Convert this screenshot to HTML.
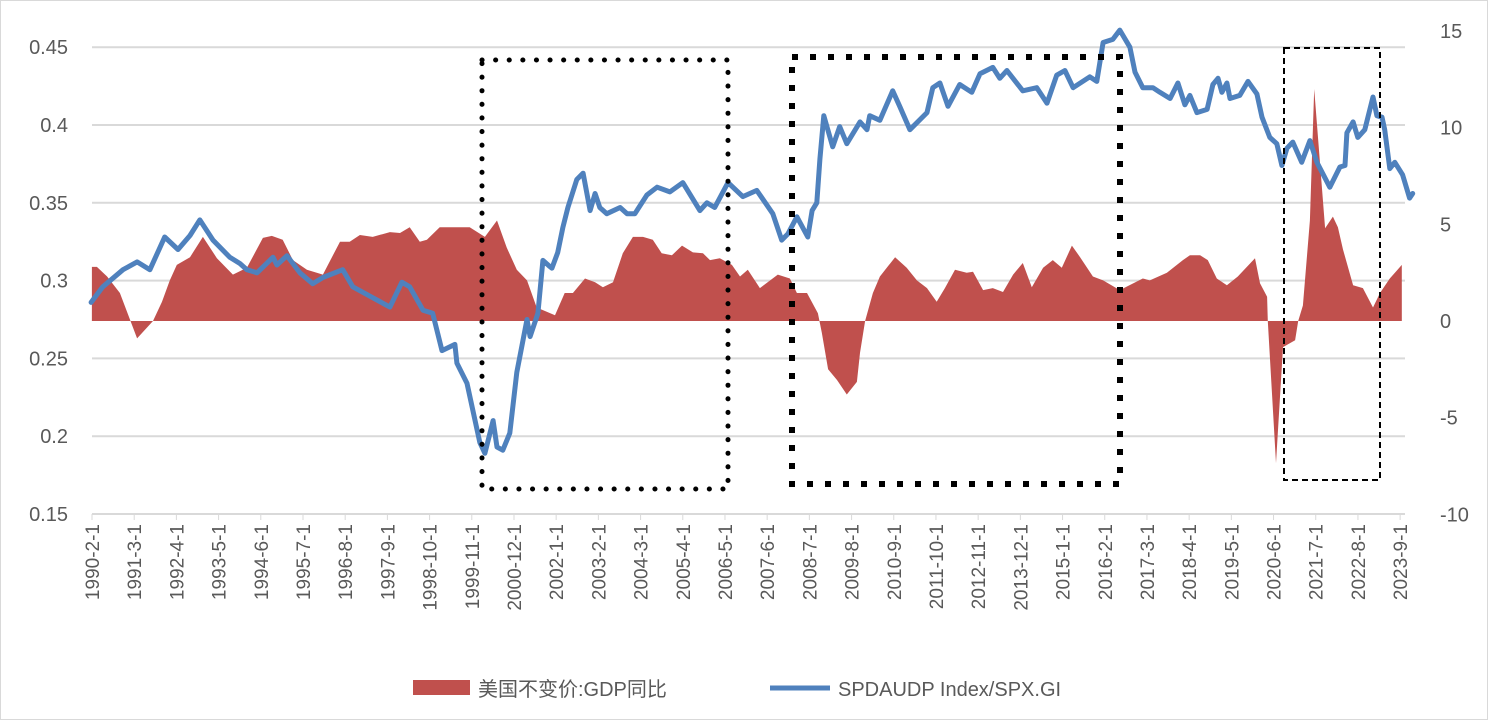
<!DOCTYPE html>
<html><head><meta charset="utf-8"><style>
body{margin:0;background:#fff;}
svg{display:block;font-family:"Liberation Sans","Noto Sans CJK SC",sans-serif;}
</style></head><body>
<svg id="c" width="1488" height="720">
<rect x="0.5" y="0.5" width="1487" height="719" fill="#fff" stroke="#d9d9d9"/>
<g id="grid"></g>
<g id="gdp"></g>
<g id="spx"></g>
<g id="boxes">
<rect x="482" y="60" width="246" height="429" fill="none" stroke="#000" stroke-width="5" stroke-dasharray="0.1 13.5" stroke-linecap="round"/>
<rect x="792" y="57" width="328" height="427" fill="none" stroke="#000" stroke-width="6" stroke-dasharray="6 12"/>
<rect x="1284" y="48" width="96" height="432" fill="none" stroke="#000" stroke-width="2" stroke-dasharray="6 4"/>
</g>
<g id="axes"></g>
<g>
<rect x="413" y="680" width="57" height="15" fill="#C0504D"/>
<text x="478" y="696" font-size="20" fill="#595959">美国不变价:GDP同比</text>
<line x1="770" y1="688" x2="830" y2="688" stroke="#4F81BD" stroke-width="5"/>
<text x="838" y="696" font-size="20" fill="#595959">SPDAUDP Index/SPX.GI</text>
</g>
</svg>
<script>
const leftTicks=[0.15,0.2,0.25,0.3,0.35,0.4,0.45];
const rightTicks=[-10,-5,0,5,10,15];
const blueT=[1990.06,1990.36,1990.88,1991.24,1991.57,1991.95,1992.29,1992.6,1992.85,1993.19,1993.62,1993.88,1994.06,1994.32,1994.73,1994.83,1995.09,1995.42,1995.75,1996.01,1996.52,1996.78,1997.29,1997.73,1998.04,1998.24,1998.58,1998.83,1999.07,1999.4,1999.45,1999.71,2000.04,2000.17,2000.38,2000.48,2000.63,2000.81,2000.99,2001.25,2001.33,2001.53,2001.66,2001.84,2001.89,2002.04,2002.17,2002.3,2002.53,2002.69,2002.87,2003.0,2003.12,2003.3,2003.64,2003.82,2004.02,2004.33,2004.59,2004.92,2005.25,2005.69,2005.87,2006.07,2006.41,2006.79,2007.15,2007.56,2007.79,2007.95,2008.18,2008.46,2008.57,2008.69,2008.77,2008.87,2009.1,2009.28,2009.46,2009.8,2009.98,2010.05,2010.31,2010.64,2010.82,2011.08,2011.52,2011.67,2011.85,2012.06,2012.36,2012.67,2012.88,2013.21,2013.39,2013.57,2013.98,2014.34,2014.6,2014.85,2015.06,2015.27,2015.7,2015.88,2016.04,2016.29,2016.47,2016.73,2016.86,2017.06,2017.32,2017.5,2017.76,2017.96,2018.14,2018.27,2018.45,2018.71,2018.86,2018.99,2019.09,2019.22,2019.3,2019.55,2019.76,2019.99,2020.12,2020.32,2020.5,2020.63,2020.76,2020.91,2021.14,2021.35,2021.53,2021.86,2022.12,2022.25,2022.3,2022.46,2022.58,2022.76,2022.97,2023.07,2023.2,2023.27,2023.4,2023.53,2023.73,2023.91,2023.99];
const blueV=[0.286,0.296,0.307,0.312,0.307,0.328,0.32,0.329,0.339,0.326,0.315,0.311,0.307,0.305,0.315,0.31,0.316,0.305,0.298,0.302,0.307,0.296,0.289,0.283,0.299,0.296,0.281,0.279,0.255,0.259,0.247,0.234,0.196,0.189,0.21,0.193,0.191,0.202,0.241,0.275,0.264,0.279,0.313,0.309,0.308,0.318,0.334,0.347,0.365,0.369,0.345,0.356,0.347,0.343,0.347,0.343,0.343,0.355,0.36,0.357,0.363,0.345,0.35,0.347,0.363,0.354,0.358,0.343,0.326,0.33,0.341,0.328,0.345,0.35,0.378,0.406,0.386,0.399,0.388,0.402,0.397,0.406,0.403,0.422,0.412,0.397,0.408,0.424,0.427,0.412,0.426,0.421,0.433,0.437,0.43,0.435,0.422,0.424,0.414,0.432,0.435,0.424,0.431,0.428,0.453,0.455,0.461,0.45,0.434,0.424,0.424,0.421,0.417,0.427,0.413,0.419,0.408,0.41,0.426,0.43,0.421,0.427,0.417,0.419,0.428,0.42,0.405,0.392,0.388,0.374,0.385,0.389,0.376,0.39,0.376,0.36,0.373,0.374,0.395,0.402,0.392,0.397,0.418,0.406,0.405,0.397,0.372,0.376,0.368,0.353,0.356];
const gdpT=[1990.08,1990.21,1990.47,1990.8,1991.24,1991.65,1991.88,1992.08,1992.26,1992.6,1992.93,1993.29,1993.7,1994.06,1994.47,1994.7,1994.98,1995.24,1995.6,1996.01,1996.45,1996.7,1996.96,1997.29,1997.73,1997.99,1998.24,1998.5,1998.68,1999.01,1999.78,2000.17,2000.48,2000.73,2000.99,2001.25,2001.5,2001.97,2002.22,2002.43,2002.74,2003.0,2003.2,2003.46,2003.71,2003.97,2004.23,2004.48,2004.71,2004.97,2005.23,2005.51,2005.77,2005.95,2006.2,2006.51,2006.72,2006.92,2007.23,2007.69,2008.0,2008.18,2008.44,2008.72,2008.82,2008.98,2009.21,2009.46,2009.72,2009.8,2009.93,2010.13,2010.31,2010.7,2011.0,2011.26,2011.52,2011.77,2011.98,2012.24,2012.54,2012.7,2012.96,2013.21,2013.47,2013.73,2013.98,2014.21,2014.5,2014.75,2014.98,2015.24,2015.45,2015.78,2016.04,2016.47,2017.06,2017.24,2017.68,2018.09,2018.27,2018.53,2018.73,2018.96,2019.22,2019.5,2019.94,2020.07,2020.25,2020.27,2020.48,2020.66,2020.97,2021.05,2021.17,2021.35,2021.46,2021.74,2021.94,2022.07,2022.2,2022.46,2022.71,2022.97,2023.15,2023.4,2023.71];
const gdpV=[2.8,2.8,2.3,1.45,-0.9,0,1.0,2.1,2.9,3.3,4.35,3.25,2.4,2.75,4.3,4.4,4.2,3.15,2.65,2.4,4.1,4.1,4.45,4.35,4.6,4.55,4.85,4.1,4.2,4.85,4.85,4.35,5.2,3.8,2.65,2.1,0.7,0.3,1.45,1.45,2.2,2.0,1.75,2.0,3.5,4.35,4.35,4.2,3.5,3.4,3.9,3.55,3.5,3.15,3.25,2.9,2.3,2.65,1.7,2.4,2.2,1.45,1.45,0.4,-0.6,-2.5,-3.05,-3.8,-3.15,-1.65,0,1.45,2.3,3.3,2.75,2.1,1.7,1.0,1.7,2.65,2.5,2.55,1.6,1.7,1.5,2.4,3.0,1.75,2.75,3.15,2.75,3.9,3.3,2.3,2.1,1.6,2.2,2.1,2.5,3.15,3.4,3.4,3.15,2.2,1.85,2.3,3.25,1.95,1.25,0,-7.35,-1.35,-1.0,0,0.8,5.2,12.0,4.8,5.4,4.85,3.7,1.85,1.7,0.7,1.45,2.2,2.9];
const startYear=1990, startMonth=2, labelStep=13, labelCount=32;

const NS='http://www.w3.org/2000/svg';
const X0=92, PXM=3.246;
const tx=t=>X0+(t-(1990+1/12))*12*PXM;
const yL=v=>514-(v-0.15)*1556;
const yR=v=>321-v*19.33;
function mk(tag,attrs,parent){const e=document.createElementNS(NS,tag);for(const k in attrs)e.setAttribute(k,attrs[k]);parent.appendChild(e);return e;}
const grid=document.getElementById('grid'), axes=document.getElementById('axes');
leftTicks.forEach(v=>{
  if(v>0.15){const l=mk('line',{x1:92,x2:1405,y1:yL(v),y2:yL(v),stroke:'#d9d9d9','stroke-width':2},grid);
  
  }
  const t=mk('text',{x:68,y:yL(v)+7,'text-anchor':'end','font-size':20,fill:'#595959'},axes);
  t.textContent=String(v);
  
  
});
rightTicks.forEach(v=>{
  const t=mk('text',{x:1440,y:yR(v)+7,'font-size':20,fill:'#595959'},axes);
  t.textContent=String(v);
  
  
});
const ax=mk('line',{x1:92,x2:1405,y1:514,y2:514,stroke:'#d9d9d9','stroke-width':2},axes);


for(let i=0;i<labelCount;i++){
  const m=startMonth-1+i*labelStep, yr=startYear+Math.floor(m/12), mo=m%12+1;
  const x=tx(yr+(mo-1)/12);
  const tk=mk('line',{x1:x,x2:x,y1:514,y2:520,stroke:'#d9d9d9','stroke-width':1},axes);
  
  
  const t=mk('text',{x:x+7,y:524,'text-anchor':'end','font-size':19,fill:'#595959',transform:`rotate(-90 ${x+7} 524)`},axes);
  t.textContent=`${yr}-${mo}-1`;
  
  
}
let d=`M${tx(gdpT[0])},${yR(0)}`;
gdpT.forEach((t,i)=>{d+=` L${tx(t).toFixed(1)},${yR(gdpV[i]).toFixed(1)}`;});
d+=` L${tx(gdpT[gdpT.length-1])},${yR(0)} Z`;
const area=mk('path',{d:d,fill:'#C0504D'},document.getElementById('gdp'));


const pts=blueT.map((t,i)=>`${tx(t).toFixed(1)},${yL(blueV[i]).toFixed(1)}`).join(' ');
const line=mk('polyline',{points:pts,fill:'none',stroke:'#4F81BD','stroke-width':5,'stroke-linejoin':'round','stroke-linecap':'round'},document.getElementById('spx'));


</script>
</body></html>
